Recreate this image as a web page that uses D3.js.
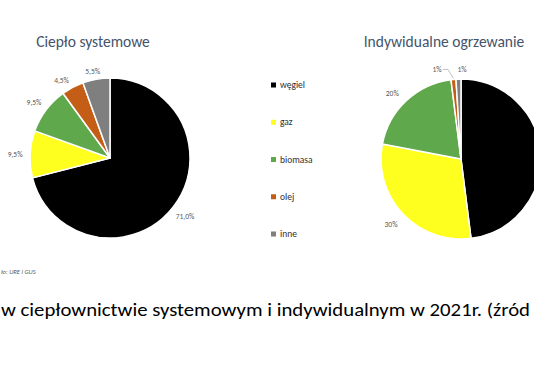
<!DOCTYPE html>
<html><head><meta charset="utf-8">
<script src="https://cdn.jsdelivr.net/npm/d3@7"></script>
<style>html,body{margin:0;padding:0;background:#fff;overflow:hidden}</style>
</head><body>
<script>
const categories = ["węgiel", "gaz", "biomasa", "olej", "inne"];
const colors = ["#000000", "#ffff1f", "#5fa84c", "#c45e16", "#7f7f7f"];
const systemowe = [71.0, 9.5, 9.5, 4.5, 5.5];
const systemoweLabels = ["71,0%", "9,5%", "9,5%", "4,5%", "5,5%"];
const indywidualne = [48, 30, 20, 1, 1];
const indywidualneLabels = ["", "30%", "20%", "1%", "1%"];
const titles = ["Ciepło systemowe", "Indywidualne ogrzewanie"];
const caption = "w ciepłownictwie systemowym i indywidualnym w 2021r. (źród";
const source = "ło: URE i GUS";

const W = 534, H = 373;
const svg = d3.select("body").append("svg").attr("width", W).attr("height", H)
  .style("font-family", "Carlito, Lato, 'Open Sans', 'Noto Sans', sans-serif");

const pie = d3.pie().sort(null).value(d => d);
const R = 80;
const arc = d3.arc().innerRadius(0).outerRadius(R);

function drawPie(cx, cy, values, labels, labelR, nudges) {
  const g = svg.append("g").attr("transform", `translate(${cx},${cy})`);
  const arcs = pie(values);
  g.selectAll("path").data(arcs).join("path")
    .attr("d", arc).attr("fill", (d, i) => colors[i])
    .attr("stroke", "#fff").attr("stroke-width", 1.5).attr("stroke-linejoin", "round");
  const la = d3.arc().innerRadius(labelR).outerRadius(labelR);
  arcs.forEach((d, i) => {
    if (!labels[i]) return;
    const c = la.centroid(d);
    const n = nudges[i] || [0, 0];
    g.append("text").attr("x", c[0] + n[0]).attr("y", c[1] + n[1])
      .attr("text-anchor", "middle").attr("dominant-baseline", "central")
      .attr("font-size", 7.5).attr("fill", "#595959").text(labels[i]);
  });
  return {g, arcs};
}

drawPie(110, 158, systemowe, systemoweLabels, 95, [[0,0],[0,1],[0,2],[-4,6],[-1,7]]);
const right = drawPie(461, 159, indywidualne, indywidualneLabels, 96, [[0,0],[0,0],[-3,4],[-15,6],[4,6]]);
// leader line for the small "olej" slice
{
  const d = right.arcs[3];
  const p0 = d3.arc().innerRadius(R + 1).outerRadius(R + 1).centroid(d);
  const lab = d3.arc().innerRadius(96).outerRadius(96).centroid(d);
  right.g.append("path")
    .attr("d", `M${lab[0]-9},${lab[1]+6}L${lab[0]-4},${lab[1]+6}L${p0[0]},${p0[1]}`)
    .attr("fill", "none").attr("stroke", "#a6a6a6").attr("stroke-width", 0.7);
}

// titles
svg.append("text").attr("x", 93).attr("y", 47).attr("text-anchor", "middle")
  .attr("font-size", 15.5).attr("fill", "#44546a").text(titles[0]);
svg.append("text").attr("x", 444).attr("y", 47).attr("text-anchor", "middle")
  .attr("font-size", 15.5).attr("fill", "#44546a").text(titles[1]);

// legend
const ly = d3.scalePoint().domain(categories).range([85, 234]);
const lg = svg.append("g");
categories.forEach((c, i) => {
  lg.append("rect").attr("x", 271).attr("y", ly(c) - 2.5).attr("width", 5).attr("height", 5).attr("fill", colors[i]);
  lg.append("text").attr("x", 280).attr("y", ly(c)).attr("dominant-baseline", "central")
    .attr("font-size", 9.5).attr("fill", "#303030").text(c);
});

// source
svg.append("text").attr("x", 1).attr("y", 274)
  .attr("font-size", 6.5).attr("font-style", "italic").attr("fill", "#595959").text(source);

// caption
svg.append("text").attr("x", 1).attr("y", 316).attr("font-size", 18).attr("fill", "#000")
  .attr("textLength", 529).attr("lengthAdjust", "spacingAndGlyphs").text(caption);
</script>
</body></html>
